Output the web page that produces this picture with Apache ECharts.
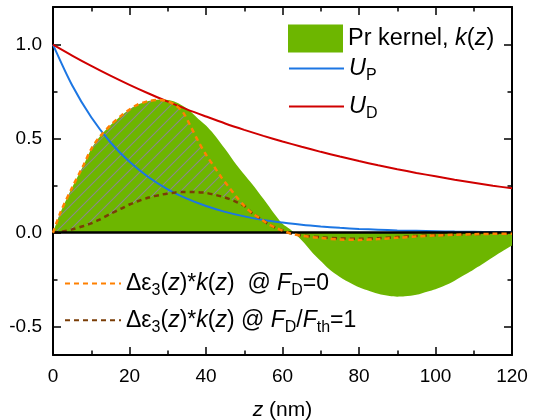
<!DOCTYPE html>
<html><head><meta charset="utf-8">
<script src="https://cdn.jsdelivr.net/npm/echarts@6/dist/echarts.min.js"></script>
<style>html,body{margin:0;padding:0;background:#fff}#c{width:535px;height:420px}</style>
</head><body><div id="c"></div>
<script>
// ---- data ----
const zU = [0,5,10,15,20,25,30,35,40,45,50,55,60,65,70,75,80,85,90,95,100,105,110,115,120];
const uP = [1.0,0.784,0.614,0.481,0.377,0.295,0.231,0.181,0.142,0.111,0.087,0.068,0.054,0.042,0.033,0.026,0.020,0.016,0.012,0.010,0.008,0.006,0.005,0.004,0.003];
const uD = [1.0,0.942,0.887,0.835,0.786,0.740,0.697,0.656,0.618,0.581,0.547,0.515,0.485,0.457,0.430,0.405,0.381,0.359,0.338,0.318,0.300,0.282,0.266,0.250,0.236];

const zK = [0,2,5,8,10,12,15,18,20,22,25,28,30,32,35,38,40,42,45,48,50,52,55,58,60,62,65,68,70,72,75,78,80,82,85,88,90,92,95,98,100,102,105,108,110,112,115,118,120];
const kernel = [0,0.11,0.24,0.36,0.445,0.505,0.571,0.625,0.655,0.68,0.70,0.708,0.705,0.695,0.66,0.605,0.57,0.525,0.445,0.36,0.31,0.26,0.18,0.097,0.048,0.018,-0.04,-0.11,-0.15,-0.19,-0.235,-0.27,-0.29,-0.305,-0.325,-0.337,-0.34,-0.338,-0.33,-0.312,-0.30,-0.285,-0.255,-0.22,-0.195,-0.17,-0.13,-0.092,-0.068];

const zE = [0,2,5,8,10,12,15,18,20,22,25,28,30,32,34,36,38,40,42,44,46,48,50,52,54,56,58,60,62,65,70,75,80,85,90,95,100,105,110,115,120];
const epsF0 = [0,0.11,0.24,0.36,0.445,0.505,0.571,0.625,0.655,0.68,0.70,0.706,0.698,0.678,0.64,0.565,0.485,0.415,0.355,0.295,0.242,0.19,0.143,0.105,0.078,0.05,0.028,0.012,-0.003,-0.016,-0.028,-0.036,-0.038,-0.034,-0.027,-0.02,-0.015,-0.011,-0.008,-0.006,-0.005];
const epsF1 = [0,0.004,0.018,0.036,0.05,0.068,0.10,0.13,0.15,0.166,0.187,0.201,0.209,0.214,0.217,0.217,0.215,0.212,0.203,0.193,0.18,0.163,0.143,0.105,0.078,0.05,0.028,0.012,-0.003,-0.014,-0.024,-0.03,-0.032,-0.029,-0.023,-0.017,-0.013,-0.01,-0.007,-0.005,-0.004];

const yMajor = [-0.5, 0, 0.5, 1.0];
const yMinor = [-0.25, 0.25, 0.75];
const hatchMaxZ = 50;

// ---- build ----
const FF = '"Liberation Sans", Arial, sans-serif';
const zip = (xs, ys) => xs.map((x, i) => [x, ys[i]]);
const hIdx = zE.map((z, i) => i).filter(i => zE[i] <= hatchMaxZ);

// diagonal hatch tile
const TS = 12;
const tile = document.createElement('canvas');
tile.width = TS; tile.height = TS;
(function () {
  const c = tile.getContext('2d');
  c.strokeStyle = '#8a8a8a'; c.lineWidth = 1.1;
  c.beginPath();
  for (let k = -1; k <= 1; k++) {
    c.moveTo(-2 + k * TS, TS + 2); c.lineTo(TS + 2 + k * TS, -2);
  }
  c.stroke();
})();

const GREEN = '#6db600', BLUE = '#1c76e3', RED = '#d00000', ORANGE = '#ff8000', BROWN = '#7a3d06';

function rich(fs, sfs, lh, slh) {
  return {
    t: {fontSize: fs, fontFamily: FF, color: '#000', lineHeight: lh},
    i: {fontSize: fs, fontFamily: FF, color: '#000', fontStyle: 'italic', lineHeight: lh},
    s: {fontSize: sfs, fontFamily: FF, color: '#000', verticalAlign: 'bottom', lineHeight: slh}
  };
}
const topRich = rich(23.5, 16, 30, 9);
const botRich = rich(23, 16, 30, 9);
const labels = {
  kernel: '{t|Pr kernel, }{i|k}{t|(}{i|z}{t|)}',
  UP: '{i|U}{s|P}',
  UD: '{i|U}{s|D}',
  e0: '{t|Δε}{s|3}{t|(}{i|z}{t|)*}{i|k}{t|(}{i|z}{t|)  @ }{i|F}{s|D}{t|=0}',
  e1: '{t|Δε}{s|3}{t|(}{i|z}{t|)*}{i|k}{t|(}{i|z}{t|) @ }{i|F}{s|D}{t|/}{i|F}{s|th}{t|=1}'
};
function mkLegend(name, left, top, w, h, richObj, extra) {
  return Object.assign({
    data: [name], left: left, top: top, itemWidth: w, itemHeight: h, itemGap: 0,
    orient: 'vertical', selectedMode: false, padding: 0,
    itemStyle: {opacity: 0, borderWidth: 0},
    formatter: n => labels[n],
    textStyle: {fontFamily: FF, fontSize: 23, color: '#000', rich: richObj}
  }, extra || {});
}

const axLine = {show: true, onZero: false, lineStyle: {color: '#000', width: 2}};
const tickMaj = (vals) => ({show: true, inside: true, length: 8, lineStyle: {color: '#000', width: 1.5}, customValues: vals});

const option = {
  animation: false,
  backgroundColor: '#fff',
  grid: {left: 53, right: 23, top: 7, bottom: 65, containLabel: false, outerBoundsMode: 'none'},
  legend: [
    mkLegend('kernel', 288, 24.5, 55, 28, topRich, {icon: 'rect', itemStyle: {borderWidth: 0}}),
    mkLegend('UP', 288, 56.5, 55, 30, topRich),
    mkLegend('UD', 288, 94.5, 55, 30, topRich),
    mkLegend('e0', 64, 271.5, 56, 30, botRich),
    mkLegend('e1', 64, 308.3, 56, 30, botRich)
  ],
  xAxis: [
    {type: 'value', position: 'bottom', min: 0, max: 120, interval: 20,
     axisLine: axLine,
     axisTick: {show: true, inside: true, length: 8, lineStyle: {color: '#000', width: 1.5}},
     minorTick: {show: true, splitNumber: 2, length: 4.5, lineStyle: {color: '#000', width: 1.5}},
     splitLine: {show: false}, minorSplitLine: {show: false},
     axisLabel: {color: '#000', fontSize: 19, fontFamily: FF, margin: 12},
     name: '{i|z} (nm)', nameLocation: 'middle', nameGap: 45,
     nameTextStyle: {color: '#000', fontSize: 21, fontFamily: FF,
       rich: {i: {fontSize: 21, fontFamily: FF, fontStyle: 'italic', color: '#000'}}}},
    {type: 'value', position: 'top', min: 0, max: 120, interval: 20,
     axisLine: axLine,
     axisTick: {show: true, inside: true, length: 8, lineStyle: {color: '#000', width: 1.5}},
     minorTick: {show: true, splitNumber: 2, length: 4.5, lineStyle: {color: '#000', width: 1.5}},
     splitLine: {show: false}, axisLabel: {show: false}}
  ],
  yAxis: [
    {type: 'value', position: 'left', min: -0.65, max: 1.2,
     axisLine: axLine, axisTick: tickMaj(yMajor), splitLine: {show: false},
     axisLabel: {color: '#000', fontSize: 19, fontFamily: FF, margin: 11, customValues: yMajor,
                 formatter: v => v.toFixed(1)}},
    {type: 'value', position: 'right', min: -0.65, max: 1.2,
     axisLine: axLine, axisTick: tickMaj(yMajor), splitLine: {show: false},
     axisLabel: {show: false}},
    {type: 'value', position: 'left', min: -0.65, max: 1.2,
     axisLine: {show: false, onZero: false}, splitLine: {show: false}, axisLabel: {show: false},
     axisTick: {show: true, inside: true, length: 4.5, lineStyle: {color: '#000', width: 1.5}, customValues: yMinor}},
    {type: 'value', position: 'right', min: -0.65, max: 1.2,
     axisLine: {show: false, onZero: false}, splitLine: {show: false}, axisLabel: {show: false},
     axisTick: {show: true, inside: true, length: 4.5, lineStyle: {color: '#000', width: 1.5}, customValues: yMinor}}
  ],
  series: [
    {name: 'kernel', type: 'line', data: zip(zK, kernel), symbol: 'none', smooth: 0.3,
     lineStyle: {width: 0, color: GREEN}, itemStyle: {color: GREEN},
     areaStyle: {color: GREEN, opacity: 1}, z: 1, silent: true},
    {name: 'hatch', type: 'custom', data: [[0, 0]], z: 2, silent: true,
     renderItem: function (params, api) {
       const pts = [];
       hIdx.forEach(i => pts.push(api.coord([zE[i], epsF0[i]])));
       for (let k = hIdx.length - 1; k >= 0; k--) pts.push(api.coord([zE[hIdx[k]], epsF1[hIdx[k]]]));
       return {type: 'polygon', shape: {points: pts}, style: {fill: {image: tile, repeat: 'repeat'}, stroke: null}};
     }},
    {name: 'UP', type: 'line', data: zip(zU, uP), symbol: 'none', smooth: 0.3,
     lineStyle: {width: 2, color: BLUE}, itemStyle: {color: BLUE}, z: 3},
    {name: 'UD', type: 'line', data: zip(zU, uD), symbol: 'none', smooth: 0.3,
     lineStyle: {width: 2, color: RED}, itemStyle: {color: RED}, z: 3},
    {name: 'e1', type: 'line', data: zip(zE, epsF1), symbol: 'none', smooth: 0.3,
     lineStyle: {width: 2.5, color: BROWN, type: [5, 4]}, itemStyle: {color: BROWN}, z: 4},
    {name: 'e0', type: 'line', data: zip(zE, epsF0), symbol: 'none', smooth: 0.3,
     lineStyle: {width: 2.5, color: ORANGE, type: [5, 4]}, itemStyle: {color: ORANGE}, z: 5,
     markLine: {silent: true, symbol: 'none', label: {show: false},
       lineStyle: {color: '#000', width: 2.5, type: 'solid'}, data: [{yAxis: 0}]}}
  ]
};
const chart = echarts.init(document.getElementById('c'), null, {renderer: 'canvas'});
chart.setOption(option);
</script>
</body></html>
